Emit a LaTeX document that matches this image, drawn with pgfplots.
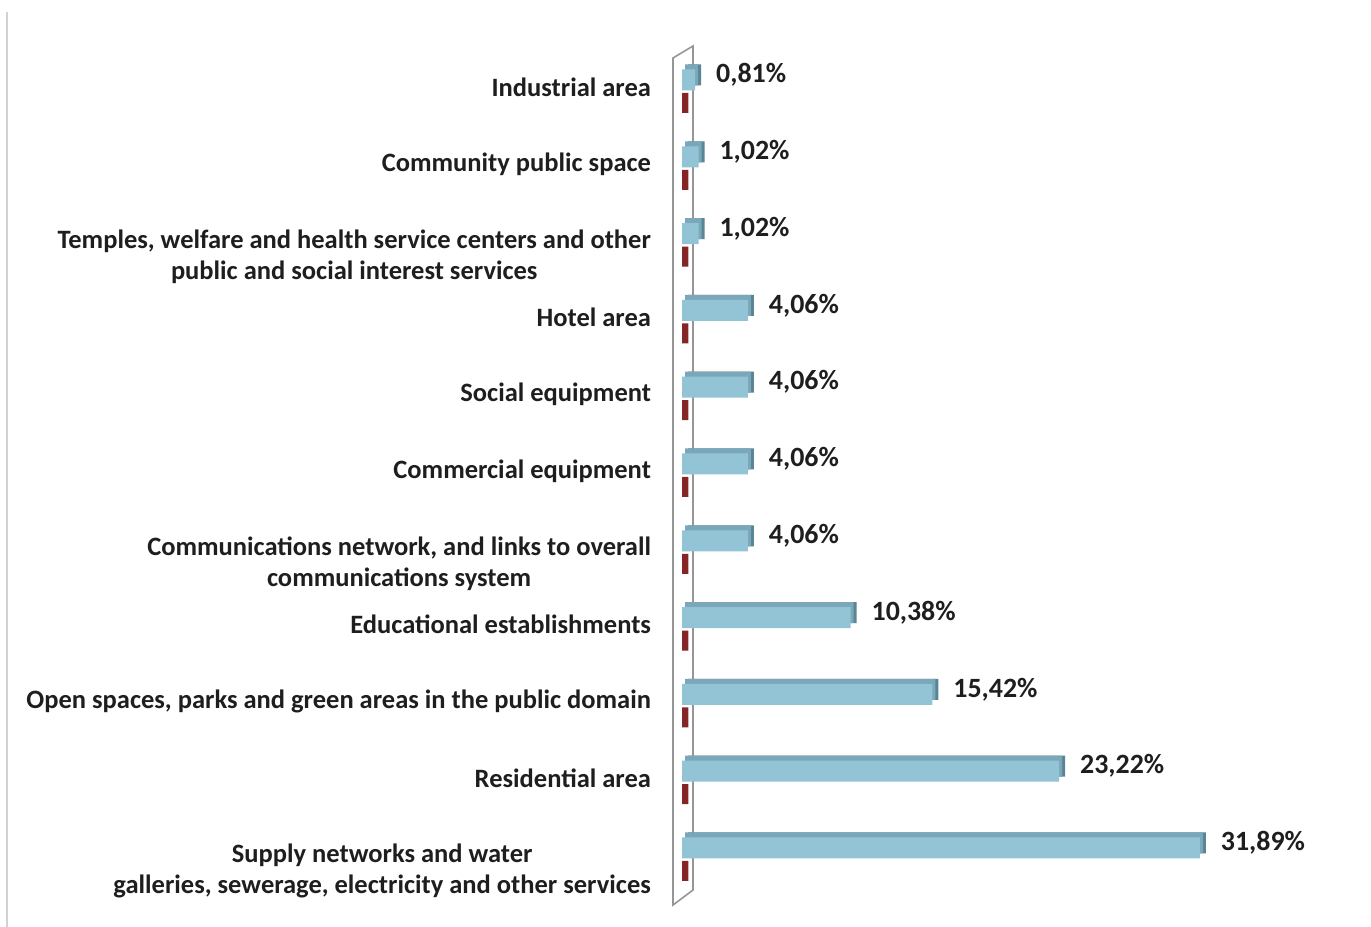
\documentclass[border=0pt]{standalone}
\usepackage{fontspec}
\setmainfont{Carlito}
\usepackage{pgfplots}
\pgfplotsset{compat=1.18}
\definecolor{barfront}{RGB}{147,196,214}
\definecolor{bartop}{RGB}{122,168,186}
\definecolor{barside}{RGB}{90,133,148}
\definecolor{redbar}{RGB}{134,37,37}
\definecolor{wallgray}{RGB}{150,150,150}
\definecolor{txt}{RGB}{30,30,30}
\begin{document}
\begin{tikzpicture}
\path[use as bounding box] (0,0) rectangle (685.5bp,463.5bp);
\draw[gray!35, line width=0.6bp] (3.5bp,0) -- (3.5bp,457.5bp);
\draw[wallgray, line width=0.8bp, fill=white] (336.5bp,434.5bp) -- (346.5bp,440.5bp) -- (346.5bp,18.5bp) -- (336.5bp,11bp) -- cycle;
\begin{axis}[
  at={(341bp,10.7bp)}, anchor=south west,
  scale only axis, width=324.8bp, height=441.6bp,
  xmin=0, xmax=40, ymin=-0.75, ymax=10.75,
  xbar, clip=false,
  axis line style={draw=none},
  xtick=\empty, major tick length=0pt,
  ytick={1,2,3,5,6,7,9,10},
  yticklabels={{Residential area}, {Open spaces, parks and green areas in the public domain}, {Educational establishments}, {Commercial equipment}, {Social equipment}, {Hotel area}, {Community public space}, {Industrial area}},
  yticklabel style={font=\fontsize{13.3}{15.5}\selectfont\bfseries, text=txt, align=center, anchor=east, xshift=-12bp, yshift=-3.5bp},
  extra y ticks={0,4,8},
  extra y tick labels={{Supply networks and water\\galleries, sewerage, electricity and other services}, {Communications network, and links to overall\\communications system}, {Temples, welfare and health service centers and other\\public and social interest services}},
  extra y tick style={yticklabel style={yshift=-8bp}},
]
% second series (dark red, near zero)
\addplot[draw=none, fill=redbar, bar width=10bp, bar shift=-11.5bp] coordinates {
(0.4,0) (0.4,1) (0.4,2) (0.4,3) (0.4,4) (0.4,5) (0.4,6) (0.4,7) (0.4,8) (0.4,9) (0.4,10)};
% 3D side
\addplot[draw=none, fill=barside, bar width=10.5bp, bar shift=0pt, xshift=3bp, yshift=2.5bp] coordinates {
(31.89,0) (23.22,1) (15.42,2) (10.38,3) (4.06,4) (4.06,5) (4.06,6) (4.06,7) (1.02,8) (1.02,9) (0.81,10)};
% 3D top
\addplot[draw=none, fill=bartop, bar width=10.5bp, bar shift=0pt, xshift=1.5bp, yshift=2.5bp] coordinates {
(31.89,0) (23.22,1) (15.42,2) (10.38,3) (4.06,4) (4.06,5) (4.06,6) (4.06,7) (1.02,8) (1.02,9) (0.81,10)};
% front
\addplot[draw=none, fill=barfront, bar width=10.5bp, bar shift=0pt,
  point meta=x,
  nodes near coords={\pgfmathprintnumber[fixed,fixed zerofill,precision=2,use comma,assume math mode=true]{\pgfplotspointmeta}\%},
  nodes near coords style={font=\fontsize{14}{16}\selectfont\bfseries, text=txt, anchor=west, xshift=7bp, yshift=2.5bp}] coordinates {
(31.89,0) (23.22,1) (15.42,2) (10.38,3) (4.06,4) (4.06,5) (4.06,6) (4.06,7) (1.02,8) (1.02,9) (0.81,10)};
\end{axis}
\end{tikzpicture}
\end{document}
